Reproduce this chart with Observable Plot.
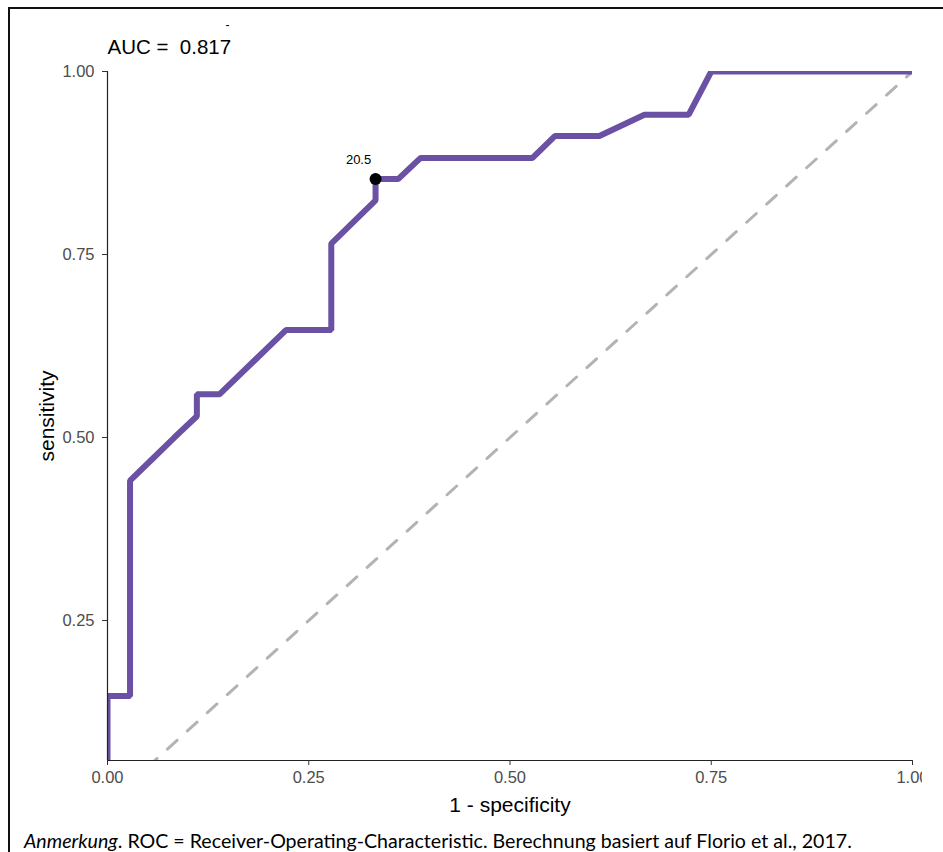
<!DOCTYPE html>
<html>
<head>
<meta charset="utf-8">
<script src="https://cdn.jsdelivr.net/npm/d3@7"></script>
<script src="https://cdn.jsdelivr.net/npm/@observablehq/plot@0.6"></script>
<style>
  html, body { margin: 0; padding: 0; background: white; }
  #page { position: relative; width: 943px; height: 852px; overflow: hidden; }
  #frame { position: absolute; left: 8px; top: 7px; width: 1000px; height: 1000px;
           border-left: 2px solid #111; border-top: 2px solid #111; }
  #chart { position: absolute; left: 0; top: 0; }
  #caption { position: absolute; left: 24px; top: 828px; font-family: Lato, "Open Sans", sans-serif;
             font-size: 19.6px; line-height: 26px; color: #000; white-space: nowrap; }
</style>
</head>
<body>
<div id="page">
  <div id="frame"></div>
  <div id="chart"></div>
  <div id="caption"><i>Anmerkung</i>. ROC = Receiver-Operating-Characteristic. Berechnung basiert auf Florio et al., 2017.</div>
</div>
<script>
// ROC curve vertices (1 - specificity, sensitivity)
const fpr = [0, 0, 0.028, 0.028, 0.056, 0.083, 0.111, 0.111, 0.139, 0.222, 0.278, 0.278, 0.333, 0.333, 0.361, 0.389, 0.528, 0.556, 0.611, 0.667, 0.722, 0.750, 1.000];
const tpr = [0, 0.147, 0.147, 0.441, 0.471, 0.500, 0.529, 0.559, 0.559, 0.647, 0.647, 0.765, 0.824, 0.853, 0.853, 0.882, 0.882, 0.912, 0.912, 0.941, 0.941, 1.000, 1.000];
// Optimal cut-off point
const cutX = [0.333];
const cutY = [0.853];
const cutLabel = ["20.5"];
// Chance diagonal
const diagX = [0, 1];
const diagY = [0, 1];
// Axis ticks
const xTicks = [0, 0.25, 0.5, 0.75, 1];
const yTicks = [0.25, 0.5, 0.75, 1];
const yMin = 0.0588;
const aucText = "AUC =  0.817";

const roc = fpr.map((x, i) => ({x, y: tpr[i]}));
const diag = diagX.map((x, i) => ({x, y: diagY[i]}));
const cut = cutX.map((x, i) => ({x, y: cutY[i], label: cutLabel[i]}));

const font = "'Liberation Sans', Arial, sans-serif";

const chart = Plot.plot({
  width: 922,
  height: 825,
  marginLeft: 107,
  marginRight: 10,
  marginTop: 71,
  marginBottom: 65,
  style: {fontFamily: font, background: "transparent", overflow: "hidden"},
  x: {domain: [0, 1], ticks: xTicks, tickFormat: d3.format(".2f"), label: null},
  y: {domain: [yMin, 1], ticks: yTicks, tickFormat: d3.format(".2f"), label: null},
  marks: [
    Plot.line(diag, {x: "x", y: "y", stroke: "#b3b3b3", strokeWidth: 3, strokeDasharray: "13,14", clip: true}),
    Plot.line(roc, {x: "x", y: "y", stroke: "#6a51a3", strokeWidth: 6, strokeLinejoin: "miter", strokeLinecap: "butt", clip: true}),
    Plot.dot(cut, {x: "x", y: "y", r: 6, fill: "black"}),
    Plot.text(cut, {x: "x", y: "y", text: "label", dx: -17, dy: -19, fontSize: 13, fill: "black"}),
    Plot.ruleX([0], {stroke: "#222", strokeWidth: 1.2}),
    Plot.ruleY([yMin], {stroke: "#222", strokeWidth: 1.2}),
    Plot.axisX({ticks: xTicks, tickFormat: d3.format(".2f"), tickSize: 5, tickPadding: 6, fontSize: 16.5, fill: "#4d4d4d", stroke: "#333", label: null}),
    Plot.axisY({ticks: yTicks, tickFormat: d3.format(".2f"), tickSize: 5, tickPadding: 8, fontSize: 16.5, fill: "#4d4d4d", stroke: "#333", label: null}),
    Plot.text(["1 - specificity"], {frameAnchor: "bottom", lineAnchor: "middle", dy: 45, fontSize: 21, fill: "black"}),
    Plot.text(["sensitivity"], {frameAnchor: "left", textAnchor: "middle", lineAnchor: "middle", rotate: -90, dx: -60, fontSize: 21, fill: "black"}),
    Plot.text([aucText], {frameAnchor: "top-left", textAnchor: "start", lineAnchor: "middle", dy: -24, fontSize: 20.5, fill: "black"}),
    Plot.text(["-"], {frameAnchor: "top-left", textAnchor: "middle", lineAnchor: "middle", dx: 120, dy: -46, fontSize: 12, fill: "black"})
  ]
});
document.getElementById("chart").appendChild(chart);
</script>
</body>
</html>
